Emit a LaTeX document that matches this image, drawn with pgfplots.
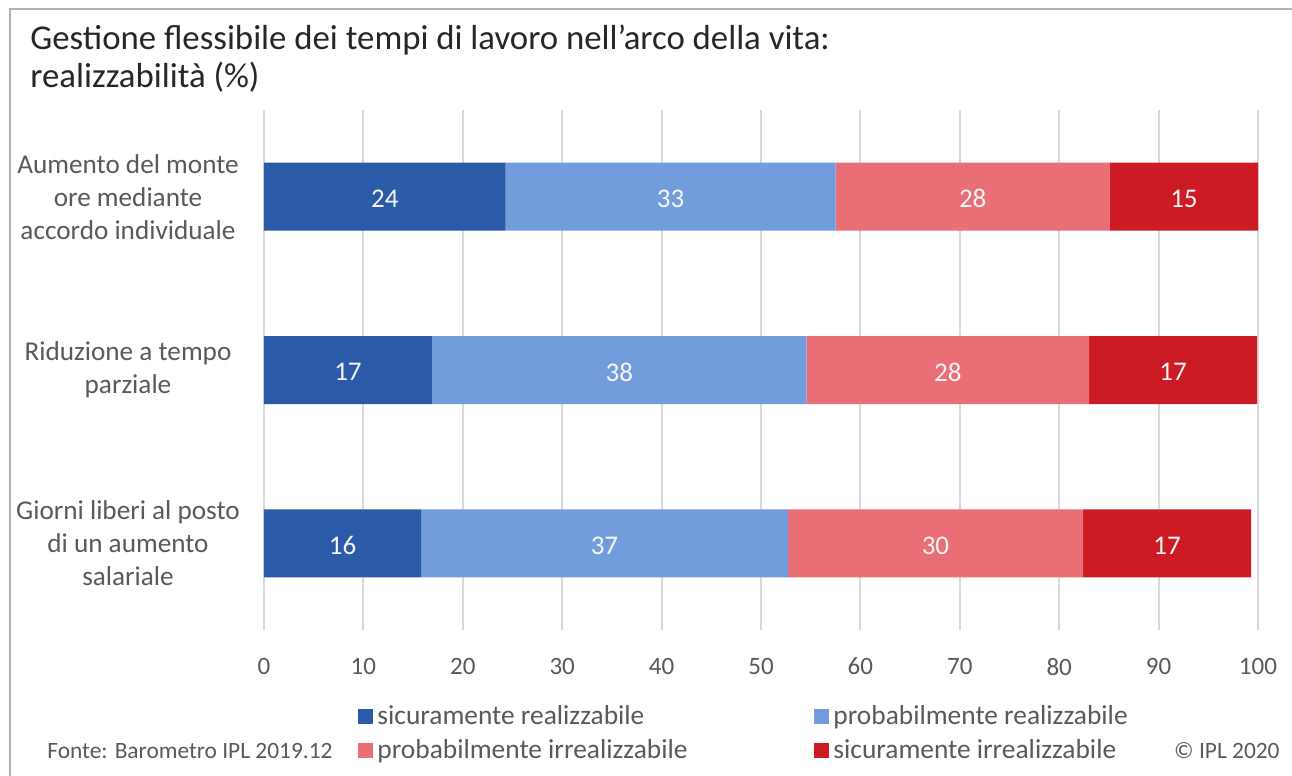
\documentclass[border=0pt]{standalone}
\usepackage{fontspec}
\setmainfont{Carlito}
\usepackage{pgfplots}
\pgfplotsset{compat=1.18}
\definecolor{cA}{HTML}{2B5BA8}
\definecolor{cB}{HTML}{729CDC}
\definecolor{cC}{HTML}{E96E76}
\definecolor{cD}{HTML}{CD1B26}
\definecolor{txt}{HTML}{595959}
\definecolor{ttl}{HTML}{262626}
\begin{document}
\begin{tikzpicture}
\path[use as bounding box] (0pt,0pt) rectangle (646pt,388pt);
\draw[gray!60, line width=1pt] (5pt,0pt) -- (5pt,383.5pt) -- (646pt,383.5pt);
\node[anchor=west, text=ttl, font=\fontsize{17.4}{20}\selectfont, inner sep=0] at (15pt,368pt) {Gestione flessibile dei tempi di lavoro nell'arco della vita:};
\node[anchor=west, text=ttl, font=\fontsize{17.4}{20}\selectfont, inner sep=0] at (15pt,349.5pt) {realizzabilità (\%)};
\node[anchor=west, text=txt, font=\fontsize{11.7}{14}\selectfont, inner sep=0] at (23.5pt,12.5pt) {Fonte: Barometro IPL 2019.12};
\node[anchor=east, text=txt, font=\fontsize{11.7}{14}\selectfont, inner sep=0] at (640pt,12.5pt) {© IPL 2020};
\begin{axis}[
  at={(132pt,73pt)}, anchor=south west,
  scale only axis, width=497pt, height=260pt,
  xbar stacked, bar width=34pt,
  xmin=0, xmax=100, ymin=-0.5, ymax=2.5,
  y dir=reverse,
  axis line style={draw=none},
  major tick length=0pt,
  xtick={0,10,...,100},
  ytick={0,1,2},
  yticklabels={{Aumento del monte\\ore mediante\\accordo individuale},{Riduzione a tempo\\parziale},{Giorni liberi al posto\\di un aumento\\salariale}},
  yticklabel style={align=center, anchor=center, xshift=-68pt, text=txt, font=\fontsize{13.6}{16.5}\selectfont},
  xticklabel style={text=txt, font=\fontsize{12.5}{15}\selectfont, yshift=-10.5pt},
  /pgf/number format/assume math mode=true,
  xmajorgrids, grid style={gray!30, line width=1pt},
  nodes near coords,
  nodes near coords style={text=white!92!gray, font=\fontsize{13.5}{15}\selectfont, yshift=-1pt, /pgf/number format/precision=0, /pgf/number format/assume math mode=true},
  legend columns=2,
  legend cell align=left,
  legend style={at={(0.0946,-0.1365)}, anchor=north west, draw=none, fill=none, inner sep=0pt, font=\fontsize{13.7}{15}\selectfont, text=txt, row sep=2pt},
  legend image code/.code={\fill[#1,draw=none] (0pt,-3.75pt) rectangle (7.5pt,3.75pt);},
]
\addplot[fill=cA, draw=none] coordinates {(24.3,0) (16.9,1) (15.8,2)};
\addplot[fill=cB, draw=none] coordinates {(33.2,0) (37.7,1) (36.9,2)};
\addplot[fill=cC, draw=none] coordinates {(27.6,0) (28.4,1) (29.7,2)};
\addplot[fill=cD, draw=none] coordinates {(14.9,0) (16.9,1) (16.9,2)};
\addlegendentry{\makebox[216.5pt][l]{sicuramente realizzabile}}
\addlegendentry{probabilmente realizzabile}
\addlegendentry{\makebox[216.5pt][l]{probabilmente irrealizzabile}}
\addlegendentry{sicuramente irrealizzabile}
\end{axis}
\end{tikzpicture}
\end{document}
